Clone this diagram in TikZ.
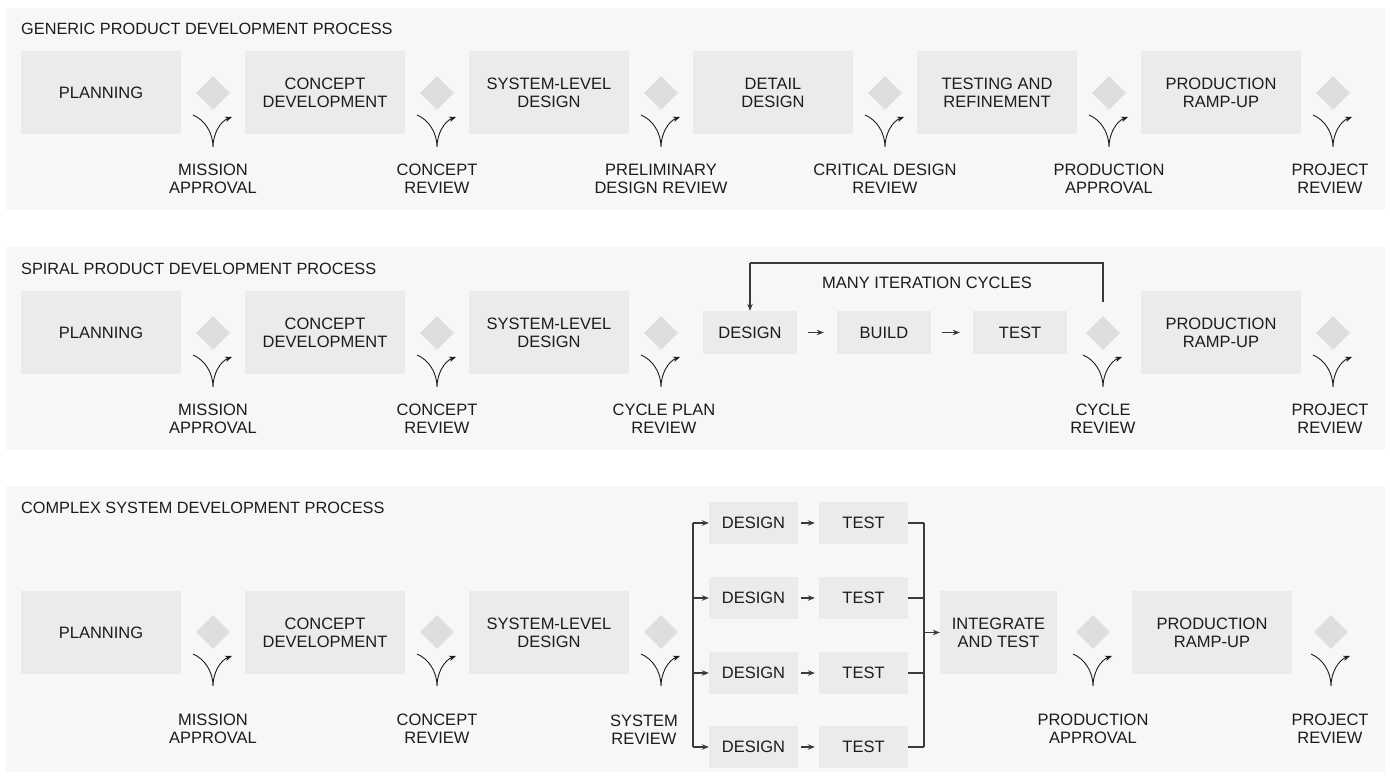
\documentclass[tikz,border=0pt]{standalone}
\usepackage{fontspec}
\setmainfont{Liberation Sans}
\usetikzlibrary{arrows.meta,calc}
\definecolor{panelbg}{HTML}{F7F7F7}
\definecolor{boxbg}{HTML}{EBEBEB}
\definecolor{diabg}{HTML}{DEDEDE}
\definecolor{ink}{HTML}{1C1C1C}
\definecolor{lineink}{HTML}{3A3A3A}
\tikzset{
  panel/.style={fill=panelbg, draw=none},
  title/.style={anchor=west, text=ink, font=\fontsize{16.3}{18}\selectfont, inner sep=0pt},
  phase/.style={fill=boxbg, draw=none, minimum width=160pt, minimum height=83pt, inner sep=0pt,
     text=ink, align=center, font=\fontsize{16.5}{18}\selectfont},
  small/.style={fill=boxbg, draw=none, minimum width=94pt, minimum height=43pt, inner sep=0pt,
     text=ink, align=center, font=\fontsize{16.5}{18}\selectfont},
  gate/.style={fill=diabg, draw=none, minimum size=24pt, inner sep=0pt, rotate=45},
  gatelabel/.style={text=ink, align=center, font=\fontsize{16.5}{18}\selectfont, inner sep=0pt},
  vmark/.style={draw=ink, line width=0.9pt, -{Stealth[length=7pt,width=5.5pt]}},
  conn/.style={draw=lineink, line width=1.1pt},
  arr/.style={conn, -{Stealth[length=7pt,width=5.5pt]}},
}
\newcommand{\gateV}[1]{%
  \draw[vmark] ($(#1)+(-20,22)$) .. controls ($(#1)+(-8,27)$) and ($(#1)+(0,40)$) .. ($(#1)+(0,54)$)
     .. controls ($(#1)+(0,40)$) and ($(#1)+(8,28)$) .. ($(#1)+(19,24)$);}
\begin{document}
\begin{tikzpicture}[x=1pt,y=-1pt]
\useasboundingbox (0,0) rectangle (1390,778);
\fill[white] (0,0) rectangle (1390,778);
% panels
\fill[panel] (6,8) rectangle (1385,210);
\fill[panel] (6,247) rectangle (1385,450);
\fill[panel] (6,486) rectangle (1385,772);

% ===== Row 1 =====
\node[title] (t1) at (21,29) {GENERIC PRODUCT DEVELOPMENT PROCESS};
\node[phase] (a1) at (101,92.5) {PLANNING};
\node[phase] (a2) at (325,92.5) {CONCEPT\\DEVELOPMENT};
\node[phase] (a3) at (549,92.5) {SYSTEM-LEVEL\\DESIGN};
\node[phase] (a4) at (773,92.5) {DETAIL\\DESIGN};
\node[phase] (a5) at (997,92.5) {TESTING AND\\REFINEMENT};
\node[phase] (a6) at (1221,92.5) {PRODUCTION\\RAMP-UP};
\foreach \i/\x in {1/213,2/437,3/661,4/885,5/1109,6/1333}{
  \node[gate] (g1\i) at (\x,93) {};
  \gateV{g1\i}
}
\node[gatelabel] (l11) at (213,179) {MISSION\\APPROVAL};
\node[gatelabel] (l12) at (437,179) {CONCEPT\\REVIEW};
\node[gatelabel] (l13) at (661,179) {PRELIMINARY\\DESIGN REVIEW};
\node[gatelabel] (l14) at (885,179) {CRITICAL DESIGN\\REVIEW};
\node[gatelabel] (l15) at (1109,179) {PRODUCTION\\APPROVAL};
\node[gatelabel] (l16) at (1330,179) {PROJECT\\REVIEW};

% ===== Row 2 =====
\node[title] (t2) at (21,269) {SPIRAL PRODUCT DEVELOPMENT PROCESS};
\node[phase] (b1) at (101,332.5) {PLANNING};
\node[phase] (b2) at (325,332.5) {CONCEPT\\DEVELOPMENT};
\node[phase] (b3) at (549,332.5) {SYSTEM-LEVEL\\DESIGN};
\node[phase] (b6) at (1221,332.5) {PRODUCTION\\RAMP-UP};
\node[small] (bd) at (750,332.5) {DESIGN};
\node[small] (bb) at (884,332.5) {BUILD};
\node[small] (bt) at (1020,332.5) {TEST};
\draw[arr] ($(bd.east)+(11,0)$) -- ($(bb.west)+(-13,0)$);
\draw[arr] ($(bb.east)+(11,0)$) -- ($(bt.west)+(-13,0)$);
\foreach \i/\x in {1/213,2/437,3/661,5/1103,6/1333}{
  \node[gate] (g2\i) at (\x,333) {};
  \gateV{g2\i}
}
\coordinate (looptop) at ($(g25.center)+(0,-31)$);
\coordinate (loopr) at (1103,263);
\coordinate (loopl) at (750,263);
\draw[conn] (looptop) -- (loopr) -- (loopl);
\draw[arr] (loopl) -- (bd.north);
\node[gatelabel] (many) at (927,283) {MANY ITERATION CYCLES};
\node[gatelabel] (l21) at (213,419) {MISSION\\APPROVAL};
\node[gatelabel] (l22) at (437,419) {CONCEPT\\REVIEW};
\node[gatelabel] (l23) at (664,419) {CYCLE PLAN\\REVIEW};
\node[gatelabel] (l25) at (1103,419) {CYCLE\\REVIEW};
\node[gatelabel] (l26) at (1330,419) {PROJECT\\REVIEW};

% ===== Row 3 =====
\node[title] (t3) at (21,508) {COMPLEX SYSTEM DEVELOPMENT PROCESS};
\node[phase] (c1) at (101,632.5) {PLANNING};
\node[phase] (c2) at (325,632.5) {CONCEPT\\DEVELOPMENT};
\node[phase] (c3) at (549,632.5) {SYSTEM-LEVEL\\DESIGN};
\node[phase, minimum width=117pt] (ci) at (998.5,632.5) {INTEGRATE\\AND TEST};
\node[phase] (c6) at (1212,632.5) {PRODUCTION\\RAMP-UP};
\foreach \i/\x in {1/213,2/437,3/661,5/1093,6/1331}{
  \node[gate] (g3\i) at (\x,632) {};
  \gateV{g3\i}
}
\coordinate (split1) at (693,523);
\coordinate (split4) at (693,747);
\coordinate (merge1) at (924,523);
\coordinate (merge4) at (924,747);
\coordinate (mergemid) at (924,632.5);
\draw[conn] (split1) -- (split4);
\draw[conn] (merge1) -- (merge4);
\foreach \j/\y in {1/523,2/598,3/673,4/747}{
  \node[small, minimum width=89pt, minimum height=42pt] (cd\j) at (753.5,\y) {DESIGN};
  \node[small, minimum width=89pt, minimum height=42pt] (ct\j) at (863.5,\y) {TEST};
  \draw[arr] (693,\y) -- (cd\j.west);
  \draw[arr] ($(cd\j.east)+(3,0)$) -- ($(ct\j.west)+(-4,0)$);
  \draw[conn] (ct\j.east) -- (924,\y);
}
\draw[arr] (mergemid) -- (ci.west);
\node[gatelabel] (l31) at (213,729) {MISSION\\APPROVAL};
\node[gatelabel] (l32) at (437,729) {CONCEPT\\REVIEW};
\node[gatelabel] (l33) at (644,730) {SYSTEM\\REVIEW};
\node[gatelabel] (l35) at (1093,729) {PRODUCTION\\APPROVAL};
\node[gatelabel] (l36) at (1330,729) {PROJECT\\REVIEW};
\end{tikzpicture}
\end{document}
